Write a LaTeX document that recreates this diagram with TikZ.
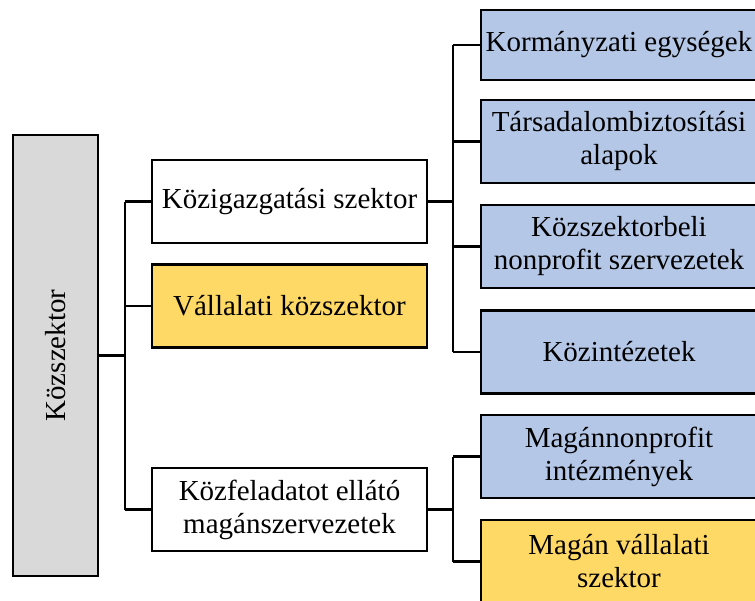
\documentclass[tikz,border=0pt]{standalone}
\usepackage{fontspec}
\setmainfont{Liberation Serif}
\definecolor{boxgray}{HTML}{D9D9D9}
\definecolor{boxyellow}{HTML}{FFD966}
\definecolor{boxblue}{HTML}{B4C7E7}
\begin{document}
\begin{tikzpicture}[x=1pt,y=-1pt,
  box/.style={draw=black,line width=2.8pt,rectangle,align=center,inner sep=0pt,
    font=\fontsize{29}{33}\selectfont},
  midbox/.style={box,minimum width=275pt,minimum height=83pt},
  rbox/.style={box,minimum width=276pt,minimum height=83pt,fill=boxblue},
  conn/.style={draw=black,line width=2.6pt}]
\path[use as bounding box,clip] (0,0) rectangle (755,600);
\node[box,fill=boxgray,minimum width=85pt,minimum height=441pt] (L) at (55.5,355.5) {};
\node[rotate=90,font=\fontsize{29}{33}\selectfont] (Ltext) at (L.center) {Közszektor};
\node[midbox,fill=white] (K) at (289.5,201.5) {Közigazgatási szektor};
\node[midbox,fill=boxyellow] (V) at (289.5,306) {Vállalati közszektor};
\node[midbox,fill=white] (F) at (289.5,509.5) {Közfeladatot ellátó\\magánszervezetek};
\node[rbox,minimum height=70pt] (R1) at (619,45) {Kormányzati egységek};
\node[rbox] (R2) at (619,141.5) {Társadalombiztosítási\\alapok};
\node[rbox] (R3) at (619,246.5) {Közszektorbeli\\nonprofit szervezetek};
\node[rbox] (R4) at (619,352) {Közintézetek};
\node[rbox] (R5) at (619,456.5) {Magánnonprofit\\intézmények};
\node[rbox,fill=boxyellow] (R6) at (619,561.5) {Magán vállalati\\szektor};
% left junction
\coordinate (j1) at (125,355.5);
\draw[conn] (L.east) -- (j1);
\draw[conn] (j1 |- K.west) -- (j1 |- F.west);
\draw[conn] (j1 |- K.west) -- (K.west);
\draw[conn] (j1 |- V.west) -- (V.west);
\draw[conn] (j1 |- F.west) -- (F.west);
% upper right junction
\coordinate (j2) at (453,201.5);
\draw[conn] (K.east) -- (j2);
\draw[conn] (j2 |- R1.west) -- (j2 |- R4.west);
\draw[conn] (j2 |- R1.west) -- (R1.west);
\draw[conn] (j2 |- R2.west) -- (R2.west);
\draw[conn] (j2 |- R3.west) -- (R3.west);
\draw[conn] (j2 |- R4.west) -- (R4.west);
% lower right junction
\coordinate (j3) at (453,509.5);
\draw[conn] (F.east) -- (j3);
\draw[conn] (j3 |- R5.west) -- (j3 |- R6.west);
\draw[conn] (j3 |- R5.west) -- (R5.west);
\draw[conn] (j3 |- R6.west) -- (R6.west);
\end{tikzpicture}
\end{document}
